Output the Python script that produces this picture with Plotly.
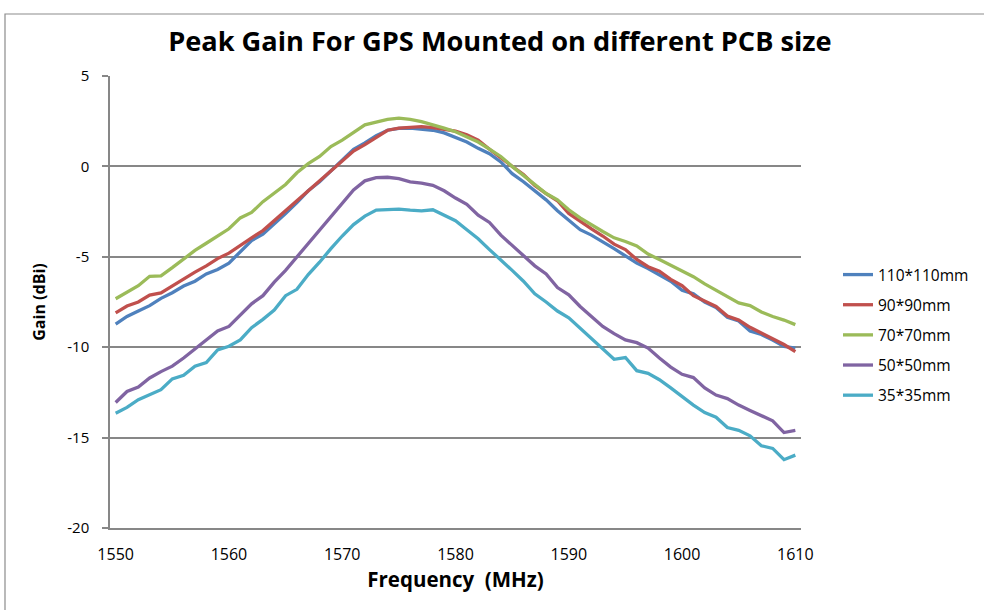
import plotly.graph_objects as go

# Frequency sweep, 1 MHz steps
freq_mhz = list(range(1550, 1611))

# Peak gain (dBi) per PCB size
gain_110 = [-8.72, -8.30, -8.00, -7.70, -7.30, -6.99, -6.62, -6.35, -5.95, -5.70,
            -5.35, -4.75, -4.10, -3.75, -3.20, -2.60, -2.00, -1.35, -0.85, -0.25,
            0.40, 0.95, 1.30, 1.70, 2.00, 2.10, 2.12, 2.08, 2.00, 1.85,
            1.60, 1.35, 1.00, 0.70, 0.25, -0.40, -0.85, -1.35, -1.85, -2.45,
            -2.95, -3.50, -3.80, -4.15, -4.55, -4.95, -5.35, -5.65, -6.00, -6.35,
            -6.85, -7.05, -7.50, -7.80, -8.35, -8.55, -9.10, -9.30, -9.60, -9.95,
            -10.05]
gain_90 = [-8.10, -7.72, -7.50, -7.12, -7.00, -6.60, -6.20, -5.85, -5.50, -5.10,
           -4.80, -4.35, -3.95, -3.55, -3.00, -2.50, -1.95, -1.35, -0.85, -0.25,
           0.30, 0.85, 1.20, 1.60, 2.00, 2.12, 2.18, 2.20, 2.15, 2.05,
           1.95, 1.75, 1.45, 0.95, 0.45, 0.00, -0.45, -1.05, -1.50, -1.90,
           -2.60, -3.05, -3.45, -3.85, -4.30, -4.60, -5.15, -5.55, -5.80, -6.25,
           -6.60, -7.15, -7.45, -7.75, -8.28, -8.50, -8.90, -9.20, -9.50, -9.85,
           -10.25]
gain_70 = [-7.32, -6.95, -6.60, -6.08, -6.05, -5.60, -5.10, -4.65, -4.25, -3.85,
           -3.45, -2.85, -2.55, -1.95, -1.45, -1.00, -0.35, 0.15, 0.55, 1.10,
           1.45, 1.85, 2.30, 2.45, 2.60, 2.67, 2.60, 2.48, 2.32, 2.12,
           1.92, 1.65, 1.35, 0.95, 0.55, 0.00, -0.50, -1.05, -1.50, -1.85,
           -2.40, -2.85, -3.25, -3.60, -3.95, -4.15, -4.40, -4.85, -5.15, -5.45,
           -5.75, -6.10, -6.50, -6.85, -7.20, -7.55, -7.70, -8.05, -8.30, -8.50,
           -8.75]
gain_50 = [-13.06, -12.45, -12.20, -11.70, -11.35, -11.05, -10.60, -10.10, -9.65, -9.10,
           -8.85, -8.20, -7.60, -7.15, -6.40, -5.75, -5.00, -4.25, -3.50, -2.80,
           -2.00, -1.30, -0.80, -0.62, -0.60, -0.68, -0.85, -0.92, -1.05, -1.35,
           -1.75, -2.10, -2.70, -3.10, -3.80, -4.35, -4.95, -5.50, -5.95, -6.70,
           -7.10, -7.75, -8.30, -8.85, -9.25, -9.60, -9.75, -10.05, -10.60, -11.10,
           -11.50, -11.68, -12.25, -12.65, -12.84, -13.20, -13.50, -13.80, -14.07, -14.72,
           -14.60]
gain_35 = [-13.65, -13.33, -12.90, -12.62, -12.35, -11.75, -11.55, -11.05, -10.85, -10.15,
           -9.95, -9.60, -8.92, -8.46, -7.95, -7.15, -6.80, -5.98, -5.30, -4.55,
           -3.85, -3.22, -2.75, -2.42, -2.40, -2.36, -2.42, -2.46, -2.40, -2.70,
           -3.00, -3.50, -4.00, -4.60, -5.15, -5.75, -6.35, -7.05, -7.50, -8.00,
           -8.37, -8.95, -9.50, -10.05, -10.67, -10.57, -11.30, -11.45, -11.80, -12.25,
           -12.75, -13.20, -13.62, -13.87, -14.44, -14.60, -14.90, -15.45, -15.60, -16.22,
           -15.97]

series_names = ["110*110mm", "90*90mm", "70*70mm", "50*50mm", "35*35mm"]
series_values = [gain_110, gain_90, gain_70, gain_50, gain_35]
series_colors = ["#4F81BD", "#C0504D", "#9BBB59", "#8064A2", "#4BACC6"]

x_ticks = [1550, 1560, 1570, 1580, 1590, 1600, 1610]
y_ticks = [-20, -15, -10, -5, 0, 5]
y_tick_text = ["-20", "-15", "-10", "-5", "0", "5"]

FONT = "Open Sans, Lato, sans-serif"
GRID = "#878787"

fig = go.Figure()
for i, (name, vals, col) in enumerate(zip(series_names, series_values, series_colors)):
    fig.add_trace(go.Scatter(
        x=freq_mhz, y=vals, name=name, mode="lines",
        line=dict(color=col, width=3.3),
        legendgroup=f"g{i}",
    ))

fig.update_layout(
    width=984, height=610,
    margin=dict(l=110, r=183, t=76, b=82),
    paper_bgcolor="white", plot_bgcolor="white",
    font=dict(family=FONT, size=15, color="#000000"),
    title=dict(
        text="<b>Peak Gain For GPS Mounted on different PCB size</b>",
        x=0.508, xref="container", xanchor="center",
        y=1 - 41 / 610, yref="container", yanchor="middle",
        font=dict(family=FONT, size=27.2, color="#000000"),
    ),
    legend=dict(
        x=838 / 984, xref="container", xanchor="left",
        y=1 - 335 / 610, yref="container", yanchor="middle",
        font=dict(family=FONT, size=15.5, color="#000000"),
        traceorder="grouped", tracegroupgap=7,
        bgcolor="rgba(0,0,0,0)",
    ),
    showlegend=True,
)

fig.update_xaxes(
    range=[1549.5, 1610.5],
    tickmode="array", tickvals=x_ticks,
    showgrid=False, zeroline=False,
    showline=True, linecolor=GRID, linewidth=1.5,
    ticks="", ticklabelstandoff=11,
    tickfont=dict(family=FONT, size=16, color="#000000"),
    title=dict(text="<b>Frequency  (MHz)</b>", standoff=8,
               font=dict(family=FONT, size=20.5, color="#000000")),
)
fig.update_yaxes(
    range=[-20, 5],
    tickmode="array", tickvals=y_ticks, ticktext=y_tick_text,
    showgrid=True, gridcolor=GRID, gridwidth=1.5,
    zeroline=False,
    showline=True, linecolor=GRID, linewidth=1.5,
    ticks="outside", ticklen=6, tickcolor=GRID, tickwidth=1.5,
    ticklabelstandoff=10,
    tickfont=dict(family=FONT, size=15, color="#000000"),
    title=dict(text="<b>Gain (dBi)</b>", standoff=18,
               font=dict(family=FONT, size=16, color="#000000")),
)

# Thin frame around the whole chart area
plot_w = 984 - 110 - 183
plot_h = 610 - 76 - 82
fig.add_shape(
    type="rect", xref="paper", yref="paper",
    x0=(5 - 110) / plot_w, x1=(995 - 110) / plot_w,
    y0=(528 - 620) / plot_h, y1=(528 - 14) / plot_h,
    line=dict(color="#8c8c8c", width=1.2), fillcolor="rgba(0,0,0,0)",
    layer="below",
)

fig.write_html("out.html")
